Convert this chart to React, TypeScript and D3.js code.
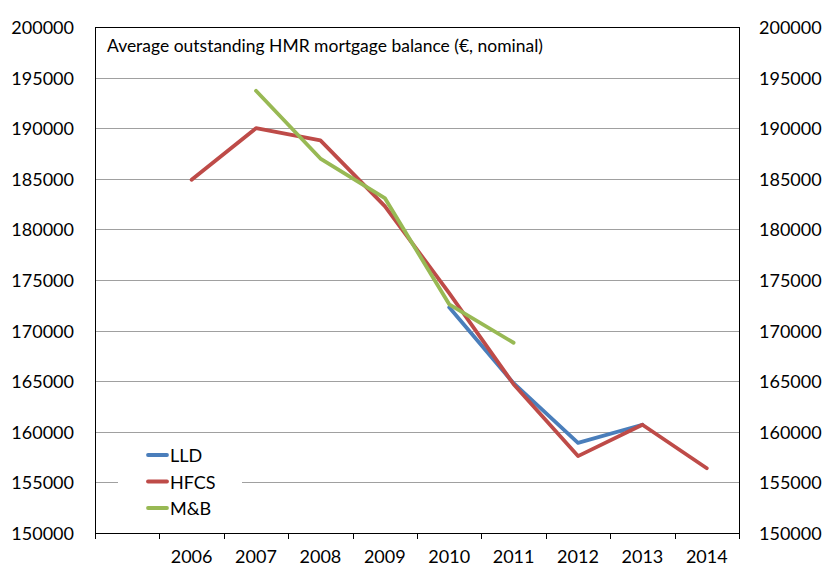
import React from "react";
import * as d3 from "d3";

const categories = ["", "2006", "2007", "2008", "2009", "2010", "2011", "2012", "2013", "2014"];
const lld = [null, null, null, null, null, 172300, 164800, 158900, 160700, null];
const hfcs = [null, 184900, 190000, 188800, 182300, 173700, 164700, 157600, 160700, 156400];
const mb = [null, null, 193700, 187000, 183100, 172600, 168800, null, null, null];
const yTicks = [150000, 155000, 160000, 165000, 170000, 175000, 180000, 185000, 190000, 195000, 200000];

const series = [
  { name: "LLD", values: lld, color: "#4a7ebb" },
  { name: "HFCS", values: hfcs, color: "#be4b48" },
  { name: "M&B", values: mb, color: "#98b954" },
];

const W = 823;
const H = 566;
const left = 95;
const right = 739;
const top = 27;
const bottom = 533;
const font = "Lato, 'Open Sans', sans-serif";

export default function App() {
  const x = d3.scaleBand<string>().domain(categories).range([left, right]).padding(0);
  const y = d3.scaleLinear().domain([150000, 200000]).range([bottom, top]);
  const cx = (i: number) => (x(categories[i]) as number) + x.bandwidth() / 2;

  const line = d3
    .line<number | null>()
    .defined((d) => d != null)
    .x((_, i) => cx(i))
    .y((d) => y(d as number));

  const boundaries = categories.map((c) => x(c) as number).concat([right]);

  return (
    <svg width={W} height={H} style={{ position: "absolute", left: 0, top: 0, background: "#fff" }}>
      <rect x={0} y={0} width={W} height={H} fill="#fff" />
      {/* gridlines */}
      {yTicks.slice(1, -1).map((t) => (
        <line key={t} x1={left} x2={right} y1={Math.round(y(t)) + 0.5} y2={Math.round(y(t)) + 0.5} stroke="#a0a0a0" strokeWidth={1} />
      ))}
      {/* frame */}
      <rect x={left + 0.5} y={top + 0.5} width={right - left} height={bottom - top} fill="none" stroke="#000" strokeWidth={1} />
      {boundaries.map((b, i) => (
        <line key={i} x1={Math.round(b) + 0.5} x2={Math.round(b) + 0.5} y1={bottom} y2={bottom + 6} stroke="#000" strokeWidth={1} />
      ))}
      {/* y labels */}
      {yTicks.map((t) => (
        <g key={t} fontFamily={font} fontSize={18} fill="#000">
          <text x={74} y={y(t)} textAnchor="end" dominantBaseline="central">{t}</text>
          <text x={759} y={y(t)} textAnchor="start" dominantBaseline="central">{t}</text>
        </g>
      ))}
      {/* x labels */}
      {categories.map((c, i) => (
        <text key={i} x={cx(i)} y={563} textAnchor="middle" fontFamily={font} fontSize={18} fill="#000">{c}</text>
      ))}
      {/* title */}
      <text x={107} y={52} fontFamily={font} fontSize={16.5} fill="#000" textLength={436} lengthAdjust="spacingAndGlyphs">
        Average outstanding HMR mortgage balance (€, nominal)
      </text>
      {/* series */}
      {series.map((s) => (
        <path key={s.name} d={line(s.values) || ""} fill="none" stroke={s.color} strokeWidth={3.8} strokeLinejoin="round" strokeLinecap="round" />
      ))}
      {/* legend */}
      <rect x={118} y={440} width={124} height={82} fill="#fff" />
      {series.map((s, i) => (
        <g key={s.name} transform={`translate(0, ${455 + i * 26.5})`}>
          <line x1={148} x2={167} y1={0} y2={0} stroke={s.color} strokeWidth={3.8} strokeLinecap="round" />
          <text x={170} y={0} dominantBaseline="central" fontFamily={font} fontSize={18} fill="#000">{s.name}</text>
        </g>
      ))}
    </svg>
  );
}
